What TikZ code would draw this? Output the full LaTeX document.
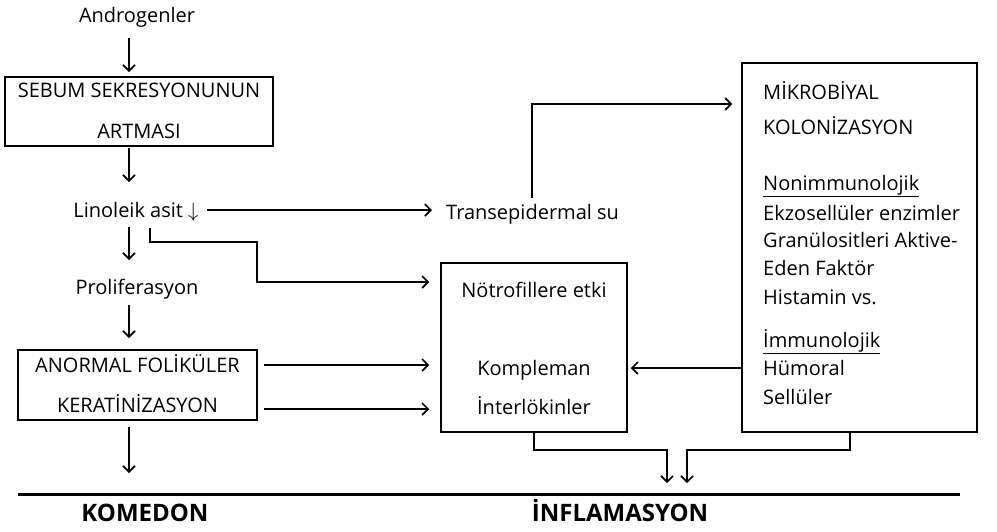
\documentclass[tikz,border=0pt]{standalone}
\usepackage{fontspec}
\setmainfont{Open Sans}
\usetikzlibrary{arrows.meta,calc}
\begin{document}
\begin{tikzpicture}[x=1pt,y=-1pt,
  every node/.style={font=\fontsize{20}{24}\selectfont, inner sep=0pt},
  box/.style={draw, line width=1.5pt},
  arr/.style={line width=1.6pt, -{Straight Barb[length=6pt,width=12pt,line width=1.6pt]}},
  lbl/.style={anchor=base},
  lft/.style={anchor=base west},
  hd/.style={font=\fontsize{24}{28}\selectfont\bfseries}]
\useasboundingbox (0,0) rectangle (997,531);

% boxes
\node[box, minimum width=268, minimum height=69] (sebum) at (139,111.5) {};
\node[box, minimum width=239, minimum height=70] (anor) at (137.5,385) {};
\node[box, minimum width=186, minimum height=169] (notro) at (534,347.5) {};
\node[box, minimum width=235, minimum height=369] (micro) at (859.5,247.5) {};

% left column texts
\node[lbl] (andro) at (137,22) {Androgenler};
\node[lbl] (sebumA) at (139,97) {SEBUM SEKRESYONUNUN};
\node[lbl] (sebumB) at (139,138) {ARTMASI};
\node[lbl] (lin) at (136,217) {Linoleik asit \(\downarrow\)};
\node[lbl] (prol) at (137,294) {Proliferasyon};
\node[lbl] (anorA) at (137.5,372) {ANORMAL FOLİKÜLER};
\node[lbl] (anorB) at (137.5,412) {KERATİNİZASYON};

% middle texts
\node[lft] (trans) at (446,219) {Transepidermal su};
\node[lbl] (notA) at (534,297) {Nötrofillere etki};
\node[lbl] (komp) at (534,375) {Kompleman};
\node[lbl] (inter) at (534,414) {İnterlökinler};

% microbial box texts
\node[lft] (mA) at (763,99) {MİKROBİYAL};
\node[lft] (mB) at (763,134) {KOLONİZASYON};
\node[lft] (mC) at (763,190) {\underline{Nonimmunolojik}};
\node[lft] (mD) at (763,220) {Ekzosellüler enzimler};
\node[lft] (mE) at (763,247) {Granülositleri Aktive-};
\node[lft] (mF) at (763,275) {Eden Faktör};
\node[lft] (mG) at (763,304) {Histamin vs.};
\node[lft] (mH) at (763,347) {\underline{İmmunolojik}};
\node[lft] (mI) at (763,375) {Hümoral};
\node[lft] (mJ) at (763,404) {Sellüler};

% bottom labels
\node[lbl, hd] (kom) at (145,521) {KOMEDON};
\node[lbl, hd] (inf) at (620,521) {İNFLAMASYON};

% guide coordinates
\coordinate (cx) at (129,0);
\coordinate (base) at (18,494);
\coordinate (baseEnd) at (960,494);
\coordinate (l2) at (150,228);
\coordinate (m1) at (667,450);
\coordinate (m2) at (687,450);

% left column arrows
\draw[arr] (cx |- 0,38) -- (cx |- 0,72);
\draw[arr] (cx |- 0,148) -- (cx |- 0,182);
\draw[arr] (cx |- 0,227) -- (cx |- 0,260);
\draw[arr] (cx |- 0,305) -- (cx |- 0,338);
\draw[arr] (cx |- 0,427) -- (cx |- 0,473);

% linoleik branches
\draw[arr] (207,210) -- ([xshift=-14]trans.west |- 0,210);
\draw[arr] (l2) |- (257,242) |- ([xshift=-11]notro.west |- 0,282);

% transepidermal to microbial
\draw[arr] (532,198) |- ([xshift=-9]micro.west |- 0,104);

% keratinization to neutrophil box
\draw[arr] ([xshift=6]anor.east |- 0,365) -- ([xshift=-11]notro.west |- 0,365);
\draw[arr] ([xshift=6]anor.east |- 0,409) -- ([xshift=-11]notro.west |- 0,409);

% microbial back to neutrophil box
\draw[arr] (micro.west |- 0,368) -- ([xshift=3]notro.east |- 0,368);

% to inflammation
\draw[arr] (notro.south) |- (m1) -- (667,483);
\draw[arr] (micro.south -| 850,0) |- (m2) -- (687,483);

% baseline
\draw[line width=3pt] (base) -- (baseEnd);
\end{tikzpicture}
\end{document}
